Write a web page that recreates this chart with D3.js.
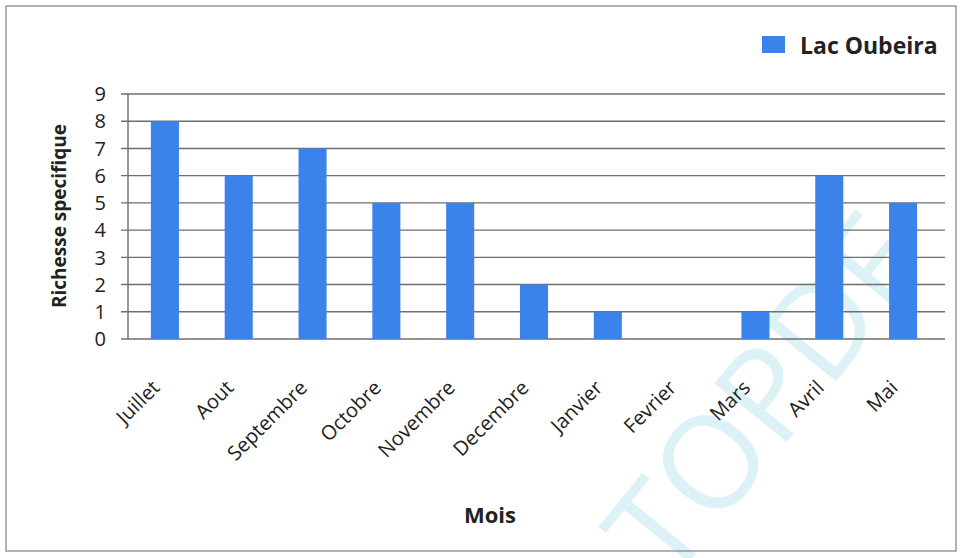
<!DOCTYPE html>
<html><head><meta charset="utf-8">
<script src="https://cdn.jsdelivr.net/npm/d3@7"></script>
<style>body{margin:0;background:#fff}svg{display:block}text{font-family:"Open Sans","Noto Sans",sans-serif}</style>
</head><body>
<svg id="c" width="963" height="558"></svg>
<script>
const categories = ["Juillet","Aout","Septembre","Octobre","Novembre","Decembre","Janvier","Fevrier","Mars","Avril","Mai"];
const values = [8,6,7,5,5,2,1,0,1,6,5];
const yTicks = [0,1,2,3,4,5,6,7,8,9];
const seriesName = "Lac Oubeira";
const xTitle = "Mois";
const yTitle = "Richesse specifique";
const watermark = "TOPDF";

const svg = d3.select("#c");
const L = 128, R = 945, T = 94, B = 339;

// watermark
svg.append("text").attr("transform","translate(670,586) rotate(-51)")
  .attr("font-size",130).attr("fill","#dcf2f6").text(watermark);

svg.append("rect").attr("x",6).attr("y",6).attr("width",950).attr("height",545)
  .attr("fill","none").attr("stroke","#999").attr("stroke-width",1.5);

const x = d3.scaleBand().domain(categories).range([L, 940]).paddingInner(0.62).paddingOuter(0.31);
const y = d3.scaleLinear().domain([0,9]).range([B, T]);

// gridlines
svg.append("g").selectAll("line").data(yTicks).join("line")
  .attr("x1", L-7).attr("x2", R).attr("y1", d=>y(d)).attr("y2", d=>y(d))
  .attr("stroke","#6e6e6e").attr("stroke-width",1.4);
svg.append("line").attr("x1",L).attr("x2",L).attr("y1",T).attr("y2",B).attr("stroke","#6e6e6e").attr("stroke-width",1.4);

// bars
svg.append("g").selectAll("rect").data(values).join("rect")
  .attr("x",(d,i)=>x(categories[i])).attr("width",x.bandwidth())
  .attr("y",d=>y(d)).attr("height",d=>y(0)-y(d))
  .attr("fill","#3b82ea");

// y tick labels
svg.append("g").selectAll("text").data(yTicks).join("text")
  .attr("x",106).attr("y",d=>y(d)).attr("dy","0.36em").attr("text-anchor","end")
  .attr("font-size",20).attr("fill","#222").text(d=>d);

// x labels
svg.append("g").selectAll("text").data(categories).join("text")
  .attr("transform",d=>`translate(${x(d)+x.bandwidth()/2-4},${B+50}) rotate(-45)`)
  .attr("text-anchor","end").attr("font-size",20).attr("fill","#222").text(d=>d);

svg.append("text").attr("x",490).attr("y",523).attr("text-anchor","middle")
  .attr("font-size",22).attr("font-weight","bold").attr("fill","#222").text(xTitle);
svg.append("text").attr("transform",`translate(66,216) rotate(-90)`).attr("text-anchor","middle")
  .attr("font-size",19).attr("font-weight","bold").attr("fill","#222").text(yTitle);

// legend
svg.append("rect").attr("x",762).attr("y",36).attr("width",23).attr("height",17).attr("fill","#3b82ea");
svg.append("text").attr("x",800).attr("y",54).attr("font-size",23).attr("font-weight","bold").attr("fill","#222").text(seriesName);
</script>
</body></html>
